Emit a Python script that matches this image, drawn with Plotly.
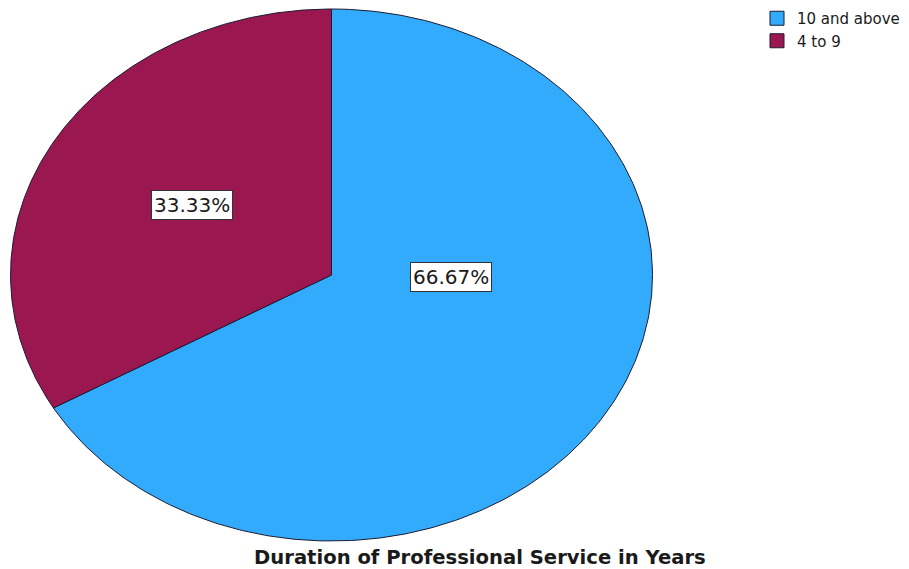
import numpy as np
import plotly.graph_objects as go

# Share of respondents by duration of professional service
categories = ["10 and above", "4 to 9"]
shares = [66.67, 33.33]
colors = ["#33abfd", "#9b1750"]
title_text = "Duration of Professional Service in Years"

edge = "#1b1b33"
font_family = "DejaVu Sans, Arial"

# "4 to 9" runs counter-clockwise from 12 o'clock, "10 and above" fills the rest
total = sum(shares)
fracs = [s / total for s in shares]
start_small = 0.0
end_small = 2 * np.pi * fracs[1]

def wedge(a0, a1, n=300):
    # angle measured counter-clockwise from the top of the unit circle
    t = np.linspace(a0, a1, n)
    xs = np.concatenate([[0], -np.sin(t), [0]])
    ys = np.concatenate([[0], np.cos(t), [0]])
    return xs, ys

fig = go.Figure()

xb, yb = wedge(end_small, 2 * np.pi)
fig.add_trace(go.Scatter(x=xb, y=yb, fill="toself", fillcolor=colors[0], mode="lines",
                         line=dict(color=edge, width=1), showlegend=False, hoverinfo="skip"))
xr, yr = wedge(start_small, end_small)
fig.add_trace(go.Scatter(x=xr, y=yr, fill="toself", fillcolor=colors[1], mode="lines",
                         line=dict(color=edge, width=1), showlegend=False, hoverinfo="skip"))

# legend swatches
for name, c in zip(categories, colors):
    fig.add_trace(go.Scatter(x=[None], y=[None], mode="markers", name=name,
                             marker=dict(symbol="square", size=14, color=c,
                                         line=dict(color=edge, width=1))))

# percentage labels
label_pos = [(0.371, -0.008), (-0.436, 0.263)]
for (lx, ly), s in zip(label_pos, shares):
    fig.add_annotation(x=lx, y=ly, text=f"{s / total * 100:.2f}%", showarrow=False,
                       font=dict(family=font_family, size=20, color="#1a1a1a"),
                       bgcolor="white", bordercolor="#333333", borderwidth=1, borderpad=2)

W, H = 909, 569
fig.add_annotation(x=480 / W, y=1 - 557 / H, xref="paper", yref="paper",
                   text=f"<b>{title_text}</b>", showarrow=False,
                   xanchor="center", yanchor="middle",
                   font=dict(family=font_family, size=19.6, color="#1a1a1a"))

cx, cy, rx, ry = 331.5, 275.0, 321.0, 266.0
xr0 = -cx / rx
xr1 = (W - cx) / rx
yr1 = cy / ry
yr0 = -(H - cy) / ry

fig.update_layout(
    width=W, height=H,
    margin=dict(l=0, r=0, t=0, b=0, autoexpand=False),
    paper_bgcolor="white", plot_bgcolor="white",
    xaxis=dict(range=[xr0, xr1], visible=False, fixedrange=True),
    yaxis=dict(range=[yr0, yr1], visible=False, fixedrange=True),
    legend=dict(x=757 / W, y=1 - 2 / H, xanchor="left", yanchor="top",
                font=dict(family=font_family, size=15, color="#1a1a1a"),
                itemwidth=30, tracegroupgap=0, bgcolor="rgba(0,0,0,0)"),
    showlegend=True,
)

fig.write_html("out.html")
